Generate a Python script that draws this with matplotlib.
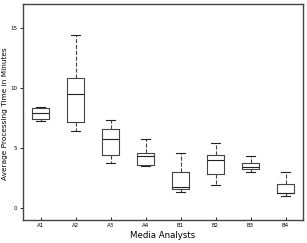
import matplotlib
matplotlib.use('Agg')
import matplotlib.pyplot as plt

analysts = ['A1', 'A2', 'A3', 'A4', 'B1', 'B2', 'B3', 'B4']
whislo = [7.25, 6.38, 3.75, 3.53, 1.30, 1.94, 3.03, 1.02]
q1 = [7.44, 7.13, 4.42, 3.61, 1.58, 2.86, 3.25, 1.25]
med = [7.94, 9.47, 5.72, 4.33, 1.75, 4.00, 3.39, 1.25]
q3 = [8.37, 10.83, 6.58, 4.58, 2.97, 4.44, 3.75, 2.03]
whishi = [8.42, 14.44, 7.36, 5.75, 4.58, 5.42, 4.33, 3.00]

stats = []
for i in range(len(analysts)):
    stats.append(dict(label=analysts[i], whislo=whislo[i], q1=q1[i], med=med[i],
                      q3=q3[i], whishi=whishi[i], fliers=[]))

fig = plt.figure(figsize=(3.07, 2.43), dpi=100)
ax = fig.add_axes([23 / 307, 23 / 243, 280 / 307, 216 / 243])

ax.bxp(stats, showfliers=False, widths=0.5,
       boxprops=dict(color='#444444', linewidth=0.8),
       medianprops=dict(color='#222222', linewidth=0.8),
       whiskerprops=dict(color='#444444', linewidth=0.8, linestyle='--'),
       capprops=dict(color='#222222', linewidth=0.8))

ax.set_ylim(-1, 17)
ax.set_yticks([0, 5, 10, 15])
ax.set_xlim(0.5, 8.5)
ax.tick_params(labelsize=4, length=2, width=0.6, pad=2, direction='in', top=False, right=False)
ax.tick_params(axis='y', direction='out')
for s in ax.spines.values():
    s.set_color('#444444')
    s.set_linewidth(1)

ax.set_ylabel('Average Processing Time in Minutes', fontsize=5.3)
ax.yaxis.set_label_coords(-0.055, 0.49)
ax.set_xlabel('Media Analysts', fontsize=6.2, labelpad=2)

fig.savefig('out.png', dpi=100)
